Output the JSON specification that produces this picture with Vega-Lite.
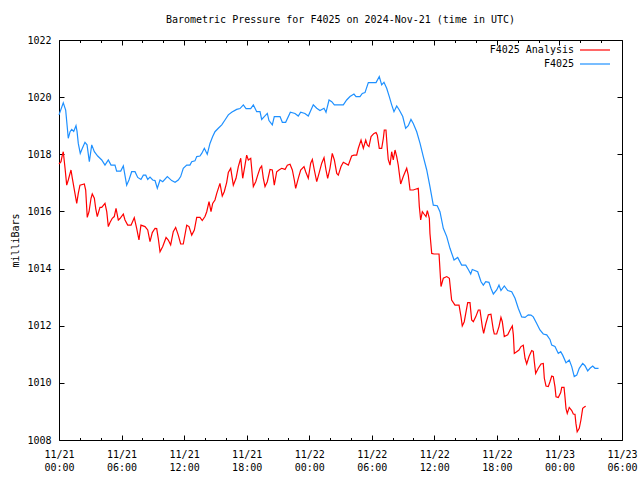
{
"$schema": "https://vega.github.io/schema/vega-lite/v6.json",
"width": 563, "height": 400,
"autosize": {"type": "none"},
"padding": {"left": 59, "top": 40, "right": 18, "bottom": 40},
"background": "white",
"title": {"text": "Barometric Pressure for F4025 on 2024-Nov-21 (time in UTC)", "font": "DejaVu Sans Mono", "fontSize": 10, "fontWeight": "normal", "color": "black", "anchor": "middle", "offset": 10},
"data": {"values": [
{"s":"F4025","h":0,"p":1019.38},{"s":"F4025","h":0.41,"p":1019.80},{"s":"F4025","h":0.64,"p":1019.55},{"s":"F4025","h":0.89,"p":1018.56},{"s":"F4025","h":1.06,"p":1018.79},{"s":"F4025","h":1.22,"p":1018.87},{"s":"F4025","h":1.41,"p":1018.80},{"s":"F4025","h":1.63,"p":1019.00},{"s":"F4025","h":1.73,"p":1018.80},{"s":"F4025","h":1.85,"p":1018.38},{"s":"F4025","h":2.04,"p":1018.03},{"s":"F4025","h":2.23,"p":1018.20},{"s":"F4025","h":2.49,"p":1018.42},{"s":"F4025","h":2.69,"p":1018.33},{"s":"F4025","h":2.91,"p":1017.74},{"s":"F4025","h":3.14,"p":1018.33},{"s":"F4025","h":3.39,"p":1018.09},{"s":"F4025","h":3.71,"p":1017.94},{"s":"F4025","h":4.10,"p":1017.80},{"s":"F4025","h":4.41,"p":1017.62},{"s":"F4025","h":4.73,"p":1017.80},{"s":"F4025","h":4.99,"p":1017.62},{"s":"F4025","h":5.37,"p":1017.62},{"s":"F4025","h":5.53,"p":1017.41},{"s":"F4025","h":5.92,"p":1017.41},{"s":"F4025","h":6.17,"p":1017.59},{"s":"F4025","h":6.49,"p":1016.92},{"s":"F4025","h":6.71,"p":1017.10},{"s":"F4025","h":6.97,"p":1017.39},{"s":"F4025","h":7.29,"p":1017.39},{"s":"F4025","h":7.55,"p":1017.19},{"s":"F4025","h":7.86,"p":1017.12},{"s":"F4025","h":8.09,"p":1017.27},{"s":"F4025","h":8.32,"p":1017.27},{"s":"F4025","h":8.51,"p":1017.12},{"s":"F4025","h":8.73,"p":1017.20},{"s":"F4025","h":8.99,"p":1017.10},{"s":"F4025","h":9.21,"p":1017.08},{"s":"F4025","h":9.43,"p":1016.81},{"s":"F4025","h":9.69,"p":1017.10},{"s":"F4025","h":9.95,"p":1017.04},{"s":"F4025","h":10.39,"p":1017.22},{"s":"F4025","h":10.81,"p":1017.08},{"s":"F4025","h":11.13,"p":1017.02},{"s":"F4025","h":11.44,"p":1017.10},{"s":"F4025","h":11.67,"p":1017.22},{"s":"F4025","h":11.92,"p":1017.51},{"s":"F4025","h":12.25,"p":1017.62},{"s":"F4025","h":12.56,"p":1017.62},{"s":"F4025","h":12.73,"p":1017.74},{"s":"F4025","h":13.04,"p":1017.77},{"s":"F4025","h":13.21,"p":1017.92},{"s":"F4025","h":13.52,"p":1017.94},{"s":"F4025","h":13.69,"p":1018.03},{"s":"F4025","h":13.94,"p":1018.21},{"s":"F4025","h":14.22,"p":1018.00},{"s":"F4025","h":14.48,"p":1018.38},{"s":"F4025","h":14.74,"p":1018.62},{"s":"F4025","h":14.96,"p":1018.79},{"s":"F4025","h":15.28,"p":1018.91},{"s":"F4025","h":15.61,"p":1019.03},{"s":"F4025","h":15.92,"p":1019.20},{"s":"F4025","h":16.24,"p":1019.38},{"s":"F4025","h":16.56,"p":1019.47},{"s":"F4025","h":17.04,"p":1019.57},{"s":"F4025","h":17.36,"p":1019.60},{"s":"F4025","h":17.68,"p":1019.73},{"s":"F4025","h":17.94,"p":1019.60},{"s":"F4025","h":18.39,"p":1019.60},{"s":"F4025","h":18.64,"p":1019.73},{"s":"F4025","h":18.96,"p":1019.49},{"s":"F4025","h":19.28,"p":1019.49},{"s":"F4025","h":19.44,"p":1019.22},{"s":"F4025","h":19.69,"p":1019.32},{"s":"F4025","h":19.98,"p":1019.43},{"s":"F4025","h":20.14,"p":1019.18},{"s":"F4025","h":20.46,"p":1019.03},{"s":"F4025","h":20.65,"p":1019.32},{"s":"F4025","h":21.20,"p":1019.32},{"s":"F4025","h":21.42,"p":1019.12},{"s":"F4025","h":21.74,"p":1019.12},{"s":"F4025","h":22.19,"p":1019.47},{"s":"F4025","h":22.64,"p":1019.43},{"s":"F4025","h":22.95,"p":1019.34},{"s":"F4025","h":23.18,"p":1019.47},{"s":"F4025","h":23.59,"p":1019.43},{"s":"F4025","h":23.91,"p":1019.34},{"s":"F4025","h":24.39,"p":1019.73},{"s":"F4025","h":24.72,"p":1019.61},{"s":"F4025","h":25.03,"p":1019.53},{"s":"F4025","h":25.42,"p":1019.61},{"s":"F4025","h":25.61,"p":1019.47},{"s":"F4025","h":25.90,"p":1019.90},{"s":"F4025","h":26.16,"p":1019.84},{"s":"F4025","h":26.41,"p":1019.73},{"s":"F4025","h":27.27,"p":1019.73},{"s":"F4025","h":27.59,"p":1019.90},{"s":"F4025","h":27.91,"p":1020.02},{"s":"F4025","h":28.29,"p":1020.11},{"s":"F4025","h":28.49,"p":1020.02},{"s":"F4025","h":28.87,"p":1020.02},{"s":"F4025","h":29.09,"p":1020.13},{"s":"F4025","h":29.35,"p":1020.16},{"s":"F4025","h":29.67,"p":1020.51},{"s":"F4025","h":30.41,"p":1020.51},{"s":"F4025","h":30.72,"p":1020.72},{"s":"F4025","h":30.95,"p":1020.43},{"s":"F4025","h":31.17,"p":1020.52},{"s":"F4025","h":31.43,"p":1020.31},{"s":"F4025","h":31.68,"p":1020.02},{"s":"F4025","h":31.91,"p":1019.73},{"s":"F4025","h":32.13,"p":1019.49},{"s":"F4025","h":32.39,"p":1019.69},{"s":"F4025","h":32.64,"p":1019.55},{"s":"F4025","h":32.97,"p":1019.32},{"s":"F4025","h":33.25,"p":1018.91},{"s":"F4025","h":33.50,"p":1019.00},{"s":"F4025","h":33.76,"p":1019.22},{"s":"F4025","h":33.98,"p":1019.08},{"s":"F4025","h":34.31,"p":1018.79},{"s":"F4025","h":34.63,"p":1018.38},{"s":"F4025","h":34.94,"p":1017.92},{"s":"F4025","h":35.27,"p":1017.45},{"s":"F4025","h":35.58,"p":1016.87},{"s":"F4025","h":35.90,"p":1016.22},{"s":"F4025","h":36.28,"p":1016.20},{"s":"F4025","h":36.54,"p":1015.99},{"s":"F4025","h":36.86,"p":1015.41},{"s":"F4025","h":37.19,"p":1015.12},{"s":"F4025","h":37.50,"p":1014.71},{"s":"F4025","h":37.89,"p":1014.30},{"s":"F4025","h":38.24,"p":1014.39},{"s":"F4025","h":38.62,"p":1014.12},{"s":"F4025","h":39.01,"p":1014.12},{"s":"F4025","h":39.26,"p":1013.97},{"s":"F4025","h":39.49,"p":1013.81},{"s":"F4025","h":39.64,"p":1013.97},{"s":"F4025","h":40.16,"p":1013.89},{"s":"F4025","h":40.48,"p":1013.54},{"s":"F4025","h":40.70,"p":1013.42},{"s":"F4025","h":40.93,"p":1013.54},{"s":"F4025","h":41.24,"p":1013.52},{"s":"F4025","h":41.43,"p":1013.31},{"s":"F4025","h":41.66,"p":1013.11},{"s":"F4025","h":41.98,"p":1013.25},{"s":"F4025","h":42.20,"p":1013.42},{"s":"F4025","h":42.39,"p":1013.23},{"s":"F4025","h":42.71,"p":1013.39},{"s":"F4025","h":43.04,"p":1013.23},{"s":"F4025","h":43.42,"p":1013.19},{"s":"F4025","h":43.74,"p":1012.96},{"s":"F4025","h":44.05,"p":1012.61},{"s":"F4025","h":44.38,"p":1012.31},{"s":"F4025","h":44.70,"p":1012.29},{"s":"F4025","h":45.01,"p":1012.38},{"s":"F4025","h":45.27,"p":1012.37},{"s":"F4025","h":45.49,"p":1012.31},{"s":"F4025","h":45.82,"p":1012.08},{"s":"F4025","h":46.13,"p":1011.85},{"s":"F4025","h":46.45,"p":1011.71},{"s":"F4025","h":46.78,"p":1011.68},{"s":"F4025","h":47.09,"p":1011.52},{"s":"F4025","h":47.26,"p":1011.32},{"s":"F4025","h":47.57,"p":1011.27},{"s":"F4025","h":47.89,"p":1011.03},{"s":"F4025","h":48.12,"p":1011.09},{"s":"F4025","h":48.31,"p":1010.97},{"s":"F4025","h":48.63,"p":1010.70},{"s":"F4025","h":48.94,"p":1010.80},{"s":"F4025","h":49.18,"p":1010.57},{"s":"F4025","h":49.42,"p":1010.22},{"s":"F4025","h":49.66,"p":1010.27},{"s":"F4025","h":49.90,"p":1010.51},{"s":"F4025","h":50.23,"p":1010.68},{"s":"F4025","h":50.45,"p":1010.60},{"s":"F4025","h":50.71,"p":1010.42},{"s":"F4025","h":50.93,"p":1010.51},{"s":"F4025","h":51.19,"p":1010.59},{"s":"F4025","h":51.41,"p":1010.51},{"s":"F4025","h":51.75,"p":1010.51},
{"s":"F4025 Analysis","h":0,"p":1017.66},{"s":"F4025 Analysis","h":0.19,"p":1017.74},{"s":"F4025 Analysis","h":0.32,"p":1017.97},{"s":"F4025 Analysis","h":0.41,"p":1018.09},{"s":"F4025 Analysis","h":0.58,"p":1017.51},{"s":"F4025 Analysis","h":0.74,"p":1016.92},{"s":"F4025 Analysis","h":0.89,"p":1017.10},{"s":"F4025 Analysis","h":1.06,"p":1017.33},{"s":"F4025 Analysis","h":1.15,"p":1017.45},{"s":"F4025 Analysis","h":1.28,"p":1017.16},{"s":"F4025 Analysis","h":1.53,"p":1016.63},{"s":"F4025 Analysis","h":1.70,"p":1016.28},{"s":"F4025 Analysis","h":1.85,"p":1016.63},{"s":"F4025 Analysis","h":2.01,"p":1016.92},{"s":"F4025 Analysis","h":2.43,"p":1016.96},{"s":"F4025 Analysis","h":2.56,"p":1016.75},{"s":"F4025 Analysis","h":2.71,"p":1015.79},{"s":"F4025 Analysis","h":2.88,"p":1015.99},{"s":"F4025 Analysis","h":3.07,"p":1016.46},{"s":"F4025 Analysis","h":3.19,"p":1016.61},{"s":"F4025 Analysis","h":3.39,"p":1016.46},{"s":"F4025 Analysis","h":3.52,"p":1016.11},{"s":"F4025 Analysis","h":3.67,"p":1015.82},{"s":"F4025 Analysis","h":3.93,"p":1016.14},{"s":"F4025 Analysis","h":4.10,"p":1016.14},{"s":"F4025 Analysis","h":4.41,"p":1016.28},{"s":"F4025 Analysis","h":4.58,"p":1015.99},{"s":"F4025 Analysis","h":4.73,"p":1015.47},{"s":"F4025 Analysis","h":4.89,"p":1015.61},{"s":"F4025 Analysis","h":5.11,"p":1015.76},{"s":"F4025 Analysis","h":5.30,"p":1015.82},{"s":"F4025 Analysis","h":5.47,"p":1016.11},{"s":"F4025 Analysis","h":5.69,"p":1015.70},{"s":"F4025 Analysis","h":5.85,"p":1015.75},{"s":"F4025 Analysis","h":6.17,"p":1015.91},{"s":"F4025 Analysis","h":6.33,"p":1015.70},{"s":"F4025 Analysis","h":6.59,"p":1015.52},{"s":"F4025 Analysis","h":6.91,"p":1015.52},{"s":"F4025 Analysis","h":7.22,"p":1015.78},{"s":"F4025 Analysis","h":7.45,"p":1015.41},{"s":"F4025 Analysis","h":7.67,"p":1015.00},{"s":"F4025 Analysis","h":7.86,"p":1015.52},{"s":"F4025 Analysis","h":8.25,"p":1015.47},{"s":"F4025 Analysis","h":8.51,"p":1015.35},{"s":"F4025 Analysis","h":8.73,"p":1014.94},{"s":"F4025 Analysis","h":8.95,"p":1015.26},{"s":"F4025 Analysis","h":9.21,"p":1015.41},{"s":"F4025 Analysis","h":9.37,"p":1015.40},{"s":"F4025 Analysis","h":9.52,"p":1015.06},{"s":"F4025 Analysis","h":9.69,"p":1014.59},{"s":"F4025 Analysis","h":9.95,"p":1014.77},{"s":"F4025 Analysis","h":10.27,"p":1015.09},{"s":"F4025 Analysis","h":10.48,"p":1015.00},{"s":"F4025 Analysis","h":10.71,"p":1014.83},{"s":"F4025 Analysis","h":10.96,"p":1015.29},{"s":"F4025 Analysis","h":11.19,"p":1015.44},{"s":"F4025 Analysis","h":11.44,"p":1015.17},{"s":"F4025 Analysis","h":11.67,"p":1014.86},{"s":"F4025 Analysis","h":11.92,"p":1014.86},{"s":"F4025 Analysis","h":12.25,"p":1015.52},{"s":"F4025 Analysis","h":12.47,"p":1015.47},{"s":"F4025 Analysis","h":12.73,"p":1015.17},{"s":"F4025 Analysis","h":12.98,"p":1015.35},{"s":"F4025 Analysis","h":13.21,"p":1015.79},{"s":"F4025 Analysis","h":13.52,"p":1015.79},{"s":"F4025 Analysis","h":13.74,"p":1015.68},{"s":"F4025 Analysis","h":14.00,"p":1015.82},{"s":"F4025 Analysis","h":14.17,"p":1015.99},{"s":"F4025 Analysis","h":14.39,"p":1016.34},{"s":"F4025 Analysis","h":14.58,"p":1015.99},{"s":"F4025 Analysis","h":14.74,"p":1016.28},{"s":"F4025 Analysis","h":14.96,"p":1016.40},{"s":"F4025 Analysis","h":15.13,"p":1016.63},{"s":"F4025 Analysis","h":15.44,"p":1016.98},{"s":"F4025 Analysis","h":15.66,"p":1016.54},{"s":"F4025 Analysis","h":15.85,"p":1016.69},{"s":"F4025 Analysis","h":16.08,"p":1017.01},{"s":"F4025 Analysis","h":16.24,"p":1017.36},{"s":"F4025 Analysis","h":16.47,"p":1017.51},{"s":"F4025 Analysis","h":16.72,"p":1016.92},{"s":"F4025 Analysis","h":16.98,"p":1017.16},{"s":"F4025 Analysis","h":17.20,"p":1017.57},{"s":"F4025 Analysis","h":17.43,"p":1017.86},{"s":"F4025 Analysis","h":17.62,"p":1017.16},{"s":"F4025 Analysis","h":17.84,"p":1017.62},{"s":"F4025 Analysis","h":18.00,"p":1017.97},{"s":"F4025 Analysis","h":18.16,"p":1017.80},{"s":"F4025 Analysis","h":18.39,"p":1017.86},{"s":"F4025 Analysis","h":18.64,"p":1016.87},{"s":"F4025 Analysis","h":18.87,"p":1017.04},{"s":"F4025 Analysis","h":19.06,"p":1017.27},{"s":"F4025 Analysis","h":19.28,"p":1017.51},{"s":"F4025 Analysis","h":19.44,"p":1017.59},{"s":"F4025 Analysis","h":19.60,"p":1017.16},{"s":"F4025 Analysis","h":19.76,"p":1016.87},{"s":"F4025 Analysis","h":19.98,"p":1017.04},{"s":"F4025 Analysis","h":20.24,"p":1017.47},{"s":"F4025 Analysis","h":20.46,"p":1017.45},{"s":"F4025 Analysis","h":20.65,"p":1016.92},{"s":"F4025 Analysis","h":20.88,"p":1017.39},{"s":"F4025 Analysis","h":21.10,"p":1017.45},{"s":"F4025 Analysis","h":21.36,"p":1017.51},{"s":"F4025 Analysis","h":21.68,"p":1017.47},{"s":"F4025 Analysis","h":21.90,"p":1017.62},{"s":"F4025 Analysis","h":22.16,"p":1017.65},{"s":"F4025 Analysis","h":22.38,"p":1017.45},{"s":"F4025 Analysis","h":22.57,"p":1017.10},{"s":"F4025 Analysis","h":22.70,"p":1016.81},{"s":"F4025 Analysis","h":22.95,"p":1017.16},{"s":"F4025 Analysis","h":23.18,"p":1017.45},{"s":"F4025 Analysis","h":23.50,"p":1017.57},{"s":"F4025 Analysis","h":23.66,"p":1017.39},{"s":"F4025 Analysis","h":23.91,"p":1017.16},{"s":"F4025 Analysis","h":24.14,"p":1017.69},{"s":"F4025 Analysis","h":24.30,"p":1017.82},{"s":"F4025 Analysis","h":24.49,"p":1017.45},{"s":"F4025 Analysis","h":24.72,"p":1017.04},{"s":"F4025 Analysis","h":24.94,"p":1017.33},{"s":"F4025 Analysis","h":25.20,"p":1017.69},{"s":"F4025 Analysis","h":25.42,"p":1017.88},{"s":"F4025 Analysis","h":25.61,"p":1017.45},{"s":"F4025 Analysis","h":25.77,"p":1017.16},{"s":"F4025 Analysis","h":25.99,"p":1017.51},{"s":"F4025 Analysis","h":26.21,"p":1018.03},{"s":"F4025 Analysis","h":26.41,"p":1017.80},{"s":"F4025 Analysis","h":26.64,"p":1017.33},{"s":"F4025 Analysis","h":26.79,"p":1017.27},{"s":"F4025 Analysis","h":27.05,"p":1017.57},{"s":"F4025 Analysis","h":27.27,"p":1017.72},{"s":"F4025 Analysis","h":27.75,"p":1017.62},{"s":"F4025 Analysis","h":28.07,"p":1017.94},{"s":"F4025 Analysis","h":28.29,"p":1017.97},{"s":"F4025 Analysis","h":28.55,"p":1017.97},{"s":"F4025 Analysis","h":28.71,"p":1018.21},{"s":"F4025 Analysis","h":28.97,"p":1018.50},{"s":"F4025 Analysis","h":29.19,"p":1018.21},{"s":"F4025 Analysis","h":29.42,"p":1018.50},{"s":"F4025 Analysis","h":29.57,"p":1018.33},{"s":"F4025 Analysis","h":29.73,"p":1018.27},{"s":"F4025 Analysis","h":29.93,"p":1018.62},{"s":"F4025 Analysis","h":30.21,"p":1018.73},{"s":"F4025 Analysis","h":30.41,"p":1018.76},{"s":"F4025 Analysis","h":30.53,"p":1018.67},{"s":"F4025 Analysis","h":30.72,"p":1018.21},{"s":"F4025 Analysis","h":30.95,"p":1018.21},{"s":"F4025 Analysis","h":31.11,"p":1018.56},{"s":"F4025 Analysis","h":31.20,"p":1018.85},{"s":"F4025 Analysis","h":31.36,"p":1018.85},{"s":"F4025 Analysis","h":31.49,"p":1018.21},{"s":"F4025 Analysis","h":31.58,"p":1017.82},{"s":"F4025 Analysis","h":31.75,"p":1017.62},{"s":"F4025 Analysis","h":31.91,"p":1018.09},{"s":"F4025 Analysis","h":32.06,"p":1017.80},{"s":"F4025 Analysis","h":32.23,"p":1018.15},{"s":"F4025 Analysis","h":32.39,"p":1017.92},{"s":"F4025 Analysis","h":32.54,"p":1017.62},{"s":"F4025 Analysis","h":32.64,"p":1017.33},{"s":"F4025 Analysis","h":32.77,"p":1016.96},{"s":"F4025 Analysis","h":33.02,"p":1017.22},{"s":"F4025 Analysis","h":33.35,"p":1017.51},{"s":"F4025 Analysis","h":33.50,"p":1017.27},{"s":"F4025 Analysis","h":33.67,"p":1016.75},{"s":"F4025 Analysis","h":33.98,"p":1016.75},{"s":"F4025 Analysis","h":34.46,"p":1016.81},{"s":"F4025 Analysis","h":34.56,"p":1016.17},{"s":"F4025 Analysis","h":34.69,"p":1015.70},{"s":"F4025 Analysis","h":34.85,"p":1015.99},{"s":"F4025 Analysis","h":35.01,"p":1015.91},{"s":"F4025 Analysis","h":35.20,"p":1015.82},{"s":"F4025 Analysis","h":35.33,"p":1016.03},{"s":"F4025 Analysis","h":35.52,"p":1015.76},{"s":"F4025 Analysis","h":35.58,"p":1015.23},{"s":"F4025 Analysis","h":35.75,"p":1014.53},{"s":"F4025 Analysis","h":35.97,"p":1014.51},{"s":"F4025 Analysis","h":36.45,"p":1014.51},{"s":"F4025 Analysis","h":36.64,"p":1013.37},{"s":"F4025 Analysis","h":36.86,"p":1013.66},{"s":"F4025 Analysis","h":37.19,"p":1013.72},{"s":"F4025 Analysis","h":37.44,"p":1013.66},{"s":"F4025 Analysis","h":37.66,"p":1012.90},{"s":"F4025 Analysis","h":37.98,"p":1012.72},{"s":"F4025 Analysis","h":38.37,"p":1012.72},{"s":"F4025 Analysis","h":38.56,"p":1012.31},{"s":"F4025 Analysis","h":38.68,"p":1011.99},{"s":"F4025 Analysis","h":38.87,"p":1012.14},{"s":"F4025 Analysis","h":39.10,"p":1012.61},{"s":"F4025 Analysis","h":39.20,"p":1012.81},{"s":"F4025 Analysis","h":39.42,"p":1012.81},{"s":"F4025 Analysis","h":39.58,"p":1012.20},{"s":"F4025 Analysis","h":39.74,"p":1012.14},{"s":"F4025 Analysis","h":39.97,"p":1012.31},{"s":"F4025 Analysis","h":40.22,"p":1012.55},{"s":"F4025 Analysis","h":40.38,"p":1012.55},{"s":"F4025 Analysis","h":40.60,"p":1011.97},{"s":"F4025 Analysis","h":40.73,"p":1011.73},{"s":"F4025 Analysis","h":40.93,"p":1012.06},{"s":"F4025 Analysis","h":41.18,"p":1012.38},{"s":"F4025 Analysis","h":41.43,"p":1012.40},{"s":"F4025 Analysis","h":41.66,"p":1011.85},{"s":"F4025 Analysis","h":41.75,"p":1011.71},{"s":"F4025 Analysis","h":41.98,"p":1011.71},{"s":"F4025 Analysis","h":42.20,"p":1011.97},{"s":"F4025 Analysis","h":42.39,"p":1012.29},{"s":"F4025 Analysis","h":42.52,"p":1012.14},{"s":"F4025 Analysis","h":42.71,"p":1011.62},{"s":"F4025 Analysis","h":43.04,"p":1011.68},{"s":"F4025 Analysis","h":43.26,"p":1011.85},{"s":"F4025 Analysis","h":43.48,"p":1011.99},{"s":"F4025 Analysis","h":43.58,"p":1011.68},{"s":"F4025 Analysis","h":43.67,"p":1011.03},{"s":"F4025 Analysis","h":43.90,"p":1011.09},{"s":"F4025 Analysis","h":44.12,"p":1011.15},{"s":"F4025 Analysis","h":44.31,"p":1011.27},{"s":"F4025 Analysis","h":44.53,"p":1011.32},{"s":"F4025 Analysis","h":44.70,"p":1010.86},{"s":"F4025 Analysis","h":44.86,"p":1010.66},{"s":"F4025 Analysis","h":45.08,"p":1010.92},{"s":"F4025 Analysis","h":45.34,"p":1011.13},{"s":"F4025 Analysis","h":45.49,"p":1011.10},{"s":"F4025 Analysis","h":45.59,"p":1010.74},{"s":"F4025 Analysis","h":45.72,"p":1010.33},{"s":"F4025 Analysis","h":45.97,"p":1010.51},{"s":"F4025 Analysis","h":46.23,"p":1010.66},{"s":"F4025 Analysis","h":46.45,"p":1010.68},{"s":"F4025 Analysis","h":46.55,"p":1010.16},{"s":"F4025 Analysis","h":46.71,"p":1009.89},{"s":"F4025 Analysis","h":46.93,"p":1009.87},{"s":"F4025 Analysis","h":47.09,"p":1010.04},{"s":"F4025 Analysis","h":47.26,"p":1010.24},{"s":"F4025 Analysis","h":47.41,"p":1010.22},{"s":"F4025 Analysis","h":47.57,"p":1009.87},{"s":"F4025 Analysis","h":47.67,"p":1009.51},{"s":"F4025 Analysis","h":47.89,"p":1009.49},{"s":"F4025 Analysis","h":48.12,"p":1009.66},{"s":"F4025 Analysis","h":48.22,"p":1009.84},{"s":"F4025 Analysis","h":48.44,"p":1009.84},{"s":"F4025 Analysis","h":48.53,"p":1009.51},{"s":"F4025 Analysis","h":48.63,"p":1009.10},{"s":"F4025 Analysis","h":48.75,"p":1008.93},{"s":"F4025 Analysis","h":48.94,"p":1009.14},{"s":"F4025 Analysis","h":49.18,"p":1009.03},{"s":"F4025 Analysis","h":49.33,"p":1008.91},{"s":"F4025 Analysis","h":49.49,"p":1008.90},{"s":"F4025 Analysis","h":49.58,"p":1008.58},{"s":"F4025 Analysis","h":49.70,"p":1008.29},{"s":"F4025 Analysis","h":49.90,"p":1008.41},{"s":"F4025 Analysis","h":50.06,"p":1008.70},{"s":"F4025 Analysis","h":50.23,"p":1009.11},{"s":"F4025 Analysis","h":50.45,"p":1009.17},{"s":"F4025 Analysis","h":50.52,"p":1009.18}
]},
"config": {
  "view": {"stroke": "black", "strokeWidth": 1},
  "axis": {"grid": false, "domain": false, "labelFont": "DejaVu Sans Mono", "labelFontSize": 10, "labelColor": "black", "titleFont": "DejaVu Sans Mono", "titleFontSize": 10, "titleFontWeight": "normal", "titleColor": "black", "tickColor": "black", "tickWidth": 1, "labelFlush": false, "labelOverlap": false},
  "legend": {"labelFont": "DejaVu Sans Mono", "labelFontSize": 10, "labelColor": "black"}
},
"resolve": {"axis": {"x": "independent", "y": "independent"}},
"layer": [
  {
    "mark": {"type": "line", "strokeWidth": 1.2},
    "encoding": {
      "x": {"field": "h", "type": "quantitative", "scale": {"domain": [0, 54], "nice": false}, "axis": {"orient": "bottom", "values": [0, 6, 12, 18, 24, 30, 36, 42, 48, 54], "tickSize": -5, "labelPadding": 14, "labelLineHeight": 13, "labelExpr": "['11/' + (21 + floor(datum.value / 24)), (datum.value % 24 < 10 ? '0' : '') + (datum.value % 24) + ':00']", "title": null}},
      "y": {"field": "p", "type": "quantitative", "scale": {"domain": [1008, 1022], "nice": false, "zero": false}, "axis": {"orient": "left", "values": [1008, 1010, 1012, 1014, 1016, 1018, 1020, 1022], "format": "d", "tickSize": -5, "labelPadding": 13, "title": "milliBars", "titlePadding": 6}},
      "color": {"field": "s", "type": "nominal", "scale": {"domain": ["F4025 Analysis", "F4025"], "range": ["#ff0000", "#1e90ff"]}, "legend": {"orient": "none", "legendX": 530, "legendY": 4, "title": null, "padding": 0, "symbolType": "M-3,0H3", "symbolSize": 100, "symbolStrokeWidth": 1.2, "rowPadding": 3, "labelAlign": "right", "labelOffset": -27}}
    }
  },
  {
    "mark": {"type": "line", "strokeOpacity": 0},
    "encoding": {
      "x": {"field": "h", "type": "quantitative", "axis": {"orient": "bottom", "values": [2, 4, 8, 10, 14, 16, 20, 22, 26, 28, 32, 34, 38, 40, 44, 46, 50, 52], "tickSize": -2.5, "labels": false, "title": null}},
      "y": {"field": "p", "type": "quantitative", "axis": {"orient": "right", "values": [1008, 1010, 1012, 1014, 1016, 1018, 1020, 1022], "tickSize": -5, "labels": false, "title": null}},
      "detail": {"field": "s"}
    }
  },
  {
    "mark": {"type": "line", "strokeOpacity": 0},
    "encoding": {
      "x": {"field": "h", "type": "quantitative", "axis": {"orient": "top", "values": [0, 6, 12, 18, 24, 30, 36, 42, 48, 54], "tickSize": -5, "labels": false, "title": null}},
      "y": {"field": "p", "type": "quantitative", "axis": null},
      "detail": {"field": "s"}
    }
  },
  {
    "mark": {"type": "line", "strokeOpacity": 0},
    "encoding": {
      "x": {"field": "h", "type": "quantitative", "axis": {"orient": "top", "values": [2, 4, 8, 10, 14, 16, 20, 22, 26, 28, 32, 34, 38, 40, 44, 46, 50, 52], "tickSize": -2.5, "labels": false, "title": null}},
      "y": {"field": "p", "type": "quantitative", "axis": null},
      "detail": {"field": "s"}
    }
  }
]
}
